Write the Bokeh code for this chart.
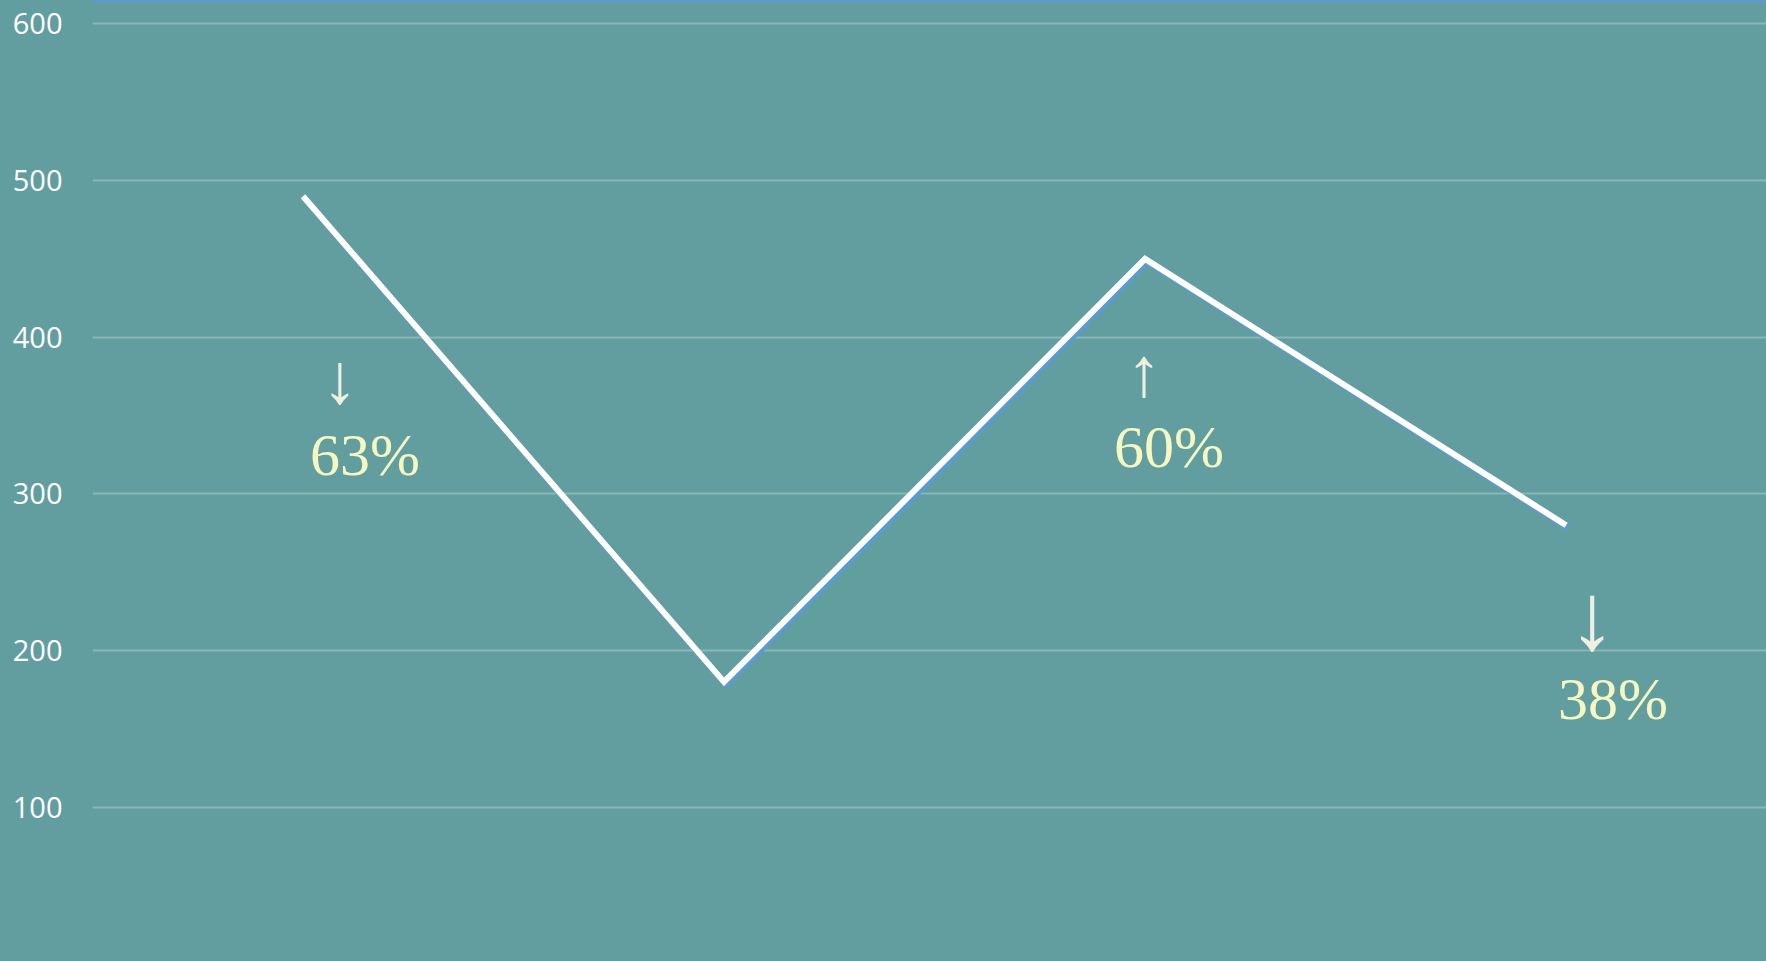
from bokeh.plotting import figure
from bokeh.models import Range1d, ColumnDataSource, FixedTicker, Span
from bokeh.core.properties import value
from bokeh.embed import file_html
from bokeh.resources import INLINE

# ---- data ----
periods = [0, 1, 2, 3]
values = [490, 180, 450, 280]
y_ticks = [0, 100, 200, 300, 400, 500, 600]
change_labels = ["63%", "60%", "38%"]
change_arrows = ["\u2193", "\u2191", "\u2193"]
label_point = [0, 2, 3]

# ---- styles / label placement (pixels relative to the data point) ----
BG = "#629e9f"
pct_dx = [62, 24, 47]
pct_dy = [259, 188, 174]
arr_dx = [37, -1, 26]
arr_dy = [183, 114, 92]
arr_size = ["71px", "70px", "95px"]

W, H = 1766, 961
LEFT = 92
X_END = 3.476
Y_START, Y_END = 1.6, 614.9

p = figure(width=W, height=H, output_backend="svg", toolbar_location=None,
           x_range=Range1d(-0.5, X_END), y_range=Range1d(Y_START, Y_END),
           min_border_left=LEFT, min_border_right=0, min_border_top=0, min_border_bottom=0,
           background_fill_color=BG, border_fill_color=BG, outline_line_color=None)
p.styles = {"background-color": BG}

p.xaxis.visible = False
p.xgrid.visible = False
p.ygrid.grid_line_color = "white"
p.ygrid.grid_line_alpha = 0.25
p.ygrid.grid_line_width = 2

ax = p.yaxis[0]
ax.ticker = FixedTicker(ticks=y_ticks)
ax.axis_line_color = None
ax.major_tick_line_color = None
ax.minor_tick_line_color = None
ax.major_tick_out = 0
ax.major_tick_in = 0
ax.major_label_standoff = 30
ax.major_label_text_font = "Open Sans"
ax.major_label_text_font_size = "29px"
ax.major_label_text_color = "white"

p.add_layout(Span(location=Y_END, dimension="width", line_color="#5b9bd5", line_width=4))

# shadow offset computed from scale (px -> data)
px_x = (X_END + 0.5) / (W - LEFT)
px_y = (Y_END - Y_START) / H
p.line([x + 2 * px_x for x in periods], [v - 3 * px_y for v in values],
       line_color="#5b9bd5", line_width=6, line_join="miter")
p.line(periods, values, line_color="white", line_width=6, line_join="miter")

src = ColumnDataSource(dict(
    x=[periods[i] for i in label_point],
    y=[values[i] for i in label_point],
    pct=change_labels, arr=change_arrows,
    pdx=pct_dx, pdy=pct_dy, adx=arr_dx, ady=arr_dy, asz=arr_size,
))
p.text(x="x", y="y", text="arr", x_offset="adx", y_offset="ady", source=src,
       text_font=value("Liberation Serif"), text_font_size="asz",
       text_color="#eef0e2", text_align="center", text_baseline="middle")
p.text(x="x", y="y", text="pct", x_offset="pdx", y_offset="pdy", source=src,
       text_font=value("Liberation Serif"), text_font_size="60px",
       text_color="#f6f8c3", text_align="center", text_baseline="middle")

open("out.html", "w").write(file_html(p, INLINE))
